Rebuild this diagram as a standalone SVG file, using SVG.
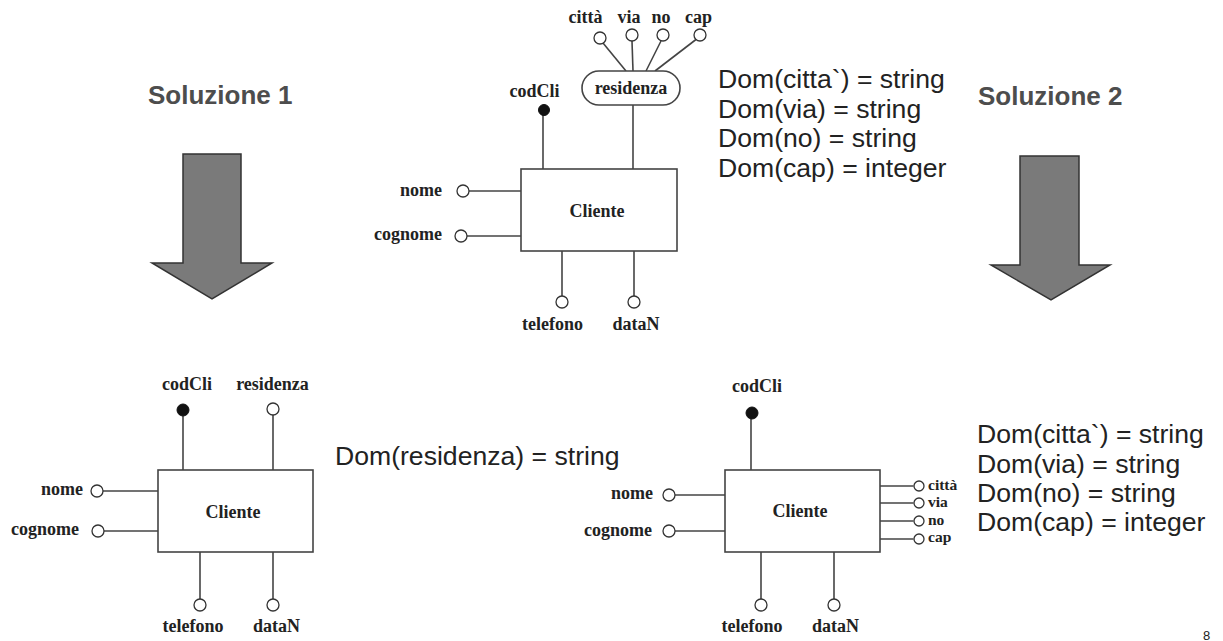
<svg xmlns="http://www.w3.org/2000/svg" width="1223" height="641" viewBox="0 0 1223 641">
<style>
.ent{fill:#fff;stroke:#444;stroke-width:1.6}
.ln{stroke:#444;stroke-width:1.6;fill:none}
.att{fill:#fff;stroke:#333;stroke-width:1.3}
.key{fill:#111;stroke:#111;stroke-width:1}
.lbl{font-family:"Liberation Serif","Times New Roman",serif;font-weight:bold;font-size:18px;fill:#222}
.sm{font-size:15.5px}
.dom{font-family:"Liberation Sans",Arial,sans-serif;font-size:26.6px;fill:#222}
.sol{font-family:"Liberation Sans",Arial,sans-serif;font-weight:bold;font-size:26px;fill:#4d4d4d}
.arr{fill:#7a7a7a;stroke:#333;stroke-width:1.5;stroke-linejoin:miter}
.r{text-anchor:end}
.m{text-anchor:middle}
</style>
<rect width="1223" height="641" fill="#fff"/>

<g id="connectors">
  <!-- top diagram -->
  <line class="ln" x1="603" y1="43" x2="626" y2="71"/>
  <line class="ln" x1="632" y1="41" x2="633" y2="71"/>
  <line class="ln" x1="661" y1="41" x2="646" y2="71"/>
  <line class="ln" x1="696" y1="39.5" x2="655" y2="71"/>
  <line class="ln" x1="633" y1="105" x2="633" y2="169"/>
  <line class="ln" x1="543" y1="115" x2="543" y2="169"/>
  <line class="ln" x1="469" y1="191" x2="521" y2="191"/>
  <line class="ln" x1="467" y1="236" x2="521" y2="236"/>
  <line class="ln" x1="562" y1="251" x2="562" y2="296"/>
  <line class="ln" x1="634" y1="251" x2="634" y2="296"/>
  <!-- solution 1 -->
  <line class="ln" x1="183" y1="416" x2="183" y2="470"/>
  <line class="ln" x1="273" y1="415" x2="273" y2="470"/>
  <line class="ln" x1="103" y1="491" x2="158" y2="491"/>
  <line class="ln" x1="104" y1="531" x2="158" y2="531"/>
  <line class="ln" x1="200" y1="552" x2="200" y2="599"/>
  <line class="ln" x1="273" y1="552" x2="273" y2="599"/>
  <!-- solution 2 -->
  <line class="ln" x1="751" y1="418" x2="751" y2="470"/>
  <line class="ln" x1="675" y1="495" x2="725" y2="495"/>
  <line class="ln" x1="675" y1="531" x2="725" y2="531"/>
  <line class="ln" x1="761" y1="552" x2="761" y2="599"/>
  <line class="ln" x1="834" y1="552" x2="834" y2="599"/>
  <line class="ln" x1="880" y1="486" x2="913.5" y2="486"/>
  <line class="ln" x1="880" y1="503" x2="913.5" y2="503"/>
  <line class="ln" x1="880" y1="521" x2="913.5" y2="521"/>
  <line class="ln" x1="880" y1="539" x2="913.5" y2="539"/>
</g>

<!-- Top (original) schema -->
<g id="top-cliente">
  <rect class="ent" x="521" y="169" width="156" height="82"/>
  <text class="lbl m" x="597" y="217">Cliente</text>
</g>
<g id="top-residenza">
  <rect class="ent" x="582" y="71" width="98" height="34" rx="17" ry="17"/>
  <text class="lbl m" x="631" y="94">residenza</text>
</g>
<g id="top-citta"><circle class="att" cx="600" cy="38" r="6"/><text class="lbl m" x="585.5" y="23">città</text></g>
<g id="top-via"><circle class="att" cx="632" cy="35" r="6"/><text class="lbl m" x="629" y="23">via</text></g>
<g id="top-no"><circle class="att" cx="663" cy="35" r="6"/><text class="lbl m" x="661" y="23">no</text></g>
<g id="top-cap"><circle class="att" cx="700" cy="35" r="6"/><text class="lbl m" x="698.5" y="23">cap</text></g>
<g id="top-codCli"><circle class="key" cx="544" cy="110" r="5.5"/><text class="lbl m" x="534.5" y="97">codCli</text></g>
<g id="top-nome"><circle class="att" cx="463" cy="191" r="6"/><text class="lbl r" x="442" y="196">nome</text></g>
<g id="top-cognome"><circle class="att" cx="461" cy="236" r="6"/><text class="lbl r" x="442" y="240">cognome</text></g>
<g id="top-telefono"><circle class="att" cx="562" cy="302" r="6"/><text class="lbl m" x="552.5" y="330">telefono</text></g>
<g id="top-dataN"><circle class="att" cx="634" cy="302" r="6"/><text class="lbl m" x="636" y="330">dataN</text></g>
<g id="top-domains">
  <text class="dom" x="718" y="88">Dom(citta`) = string</text>
  <text class="dom" x="718" y="117.5">Dom(via) = string</text>
  <text class="dom" x="718" y="147">Dom(no) = string</text>
  <text class="dom" x="718" y="176.5">Dom(cap) = integer</text>
</g>

<!-- Solution arrows -->
<g id="soluzione1">
  <text class="sol" x="148" y="104">Soluzione 1</text>
  <path class="arr" d="M183,154 H241 V263 H272 L212,299 L152,263 H183 Z"/>
</g>
<g id="soluzione2">
  <text class="sol" x="978" y="105">Soluzione 2</text>
  <path class="arr" d="M1020,156 H1079 V265 H1110 L1051,300 L991,265 H1020 Z"/>
</g>

<!-- Solution 1 schema -->
<g id="s1-cliente">
  <rect class="ent" x="158" y="470" width="155" height="82"/>
  <text class="lbl m" x="233" y="518">Cliente</text>
</g>
<g id="s1-codCli"><circle class="key" cx="183" cy="410" r="6"/><text class="lbl m" x="187" y="390">codCli</text></g>
<g id="s1-residenza"><circle class="att" cx="273" cy="409" r="6"/><text class="lbl m" x="272.5" y="390">residenza</text></g>
<g id="s1-nome"><circle class="att" cx="97" cy="491" r="6"/><text class="lbl r" x="83" y="495">nome</text></g>
<g id="s1-cognome"><circle class="att" cx="98" cy="531" r="6"/><text class="lbl r" x="79" y="535">cognome</text></g>
<g id="s1-telefono"><circle class="att" cx="200" cy="605" r="6"/><text class="lbl m" x="193" y="632">telefono</text></g>
<g id="s1-dataN"><circle class="att" cx="273" cy="605" r="6"/><text class="lbl m" x="276.5" y="632">dataN</text></g>
<g id="s1-domain">
  <text class="dom" x="335" y="465">Dom(residenza) = string</text>
</g>

<!-- Solution 2 schema -->
<g id="s2-cliente">
  <rect class="ent" x="725" y="470" width="155" height="82"/>
  <text class="lbl m" x="800" y="517">Cliente</text>
</g>
<g id="s2-codCli"><circle class="key" cx="752" cy="413" r="6"/><text class="lbl m" x="757" y="392">codCli</text></g>
<g id="s2-nome"><circle class="att" cx="669" cy="495" r="6"/><text class="lbl r" x="653" y="499">nome</text></g>
<g id="s2-cognome"><circle class="att" cx="669" cy="531" r="6"/><text class="lbl r" x="652" y="536">cognome</text></g>
<g id="s2-telefono"><circle class="att" cx="761" cy="605" r="6"/><text class="lbl m" x="752" y="632">telefono</text></g>
<g id="s2-dataN"><circle class="att" cx="834" cy="605" r="6"/><text class="lbl m" x="835.5" y="632">dataN</text></g>
<g id="s2-citta"><circle class="att" cx="919" cy="486" r="5"/><text class="lbl sm" x="928" y="490">città</text></g>
<g id="s2-via"><circle class="att" cx="919" cy="503" r="5"/><text class="lbl sm" x="928" y="507">via</text></g>
<g id="s2-no"><circle class="att" cx="919" cy="521" r="5"/><text class="lbl sm" x="928" y="525">no</text></g>
<g id="s2-cap"><circle class="att" cx="919" cy="539" r="5"/><text class="lbl sm" x="928" y="542">cap</text></g>
<g id="s2-domains">
  <text class="dom" x="977" y="443">Dom(citta`) = string</text>
  <text class="dom" x="977" y="472.5">Dom(via) = string</text>
  <text class="dom" x="977" y="502">Dom(no) = string</text>
  <text class="dom" x="977" y="531">Dom(cap) = integer</text>
</g>

<text x="1203" y="640" font-family="Liberation Sans, Arial, sans-serif" font-size="13" fill="#222">8</text>
</svg>
